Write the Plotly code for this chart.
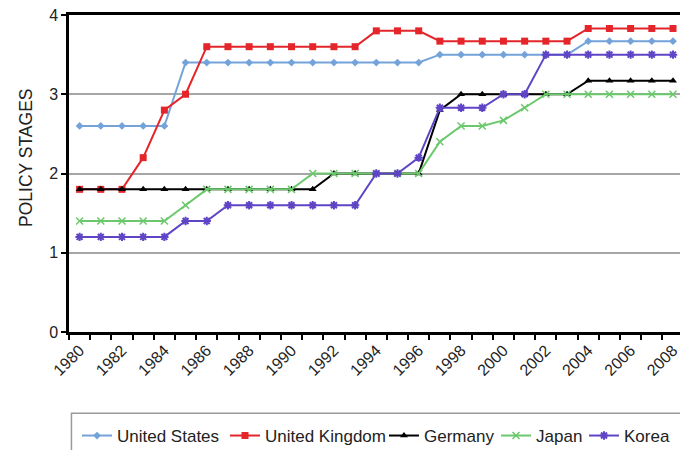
import plotly.graph_objects as go

# Years covered by the series
years = list(range(1980, 2009))

# Policy stage scores per country
united_states = [2.6] * 5 + [3.4] * 12 + [3.5] * 7 + [3.67] * 5
united_kingdom = [1.8] * 3 + [2.2, 2.8, 3.0] + [3.6] * 8 + [3.8] * 3 + [3.67] * 7 + [3.83] * 5
germany = [1.8] * 12 + [2.0] * 5 + [2.8] + [3.0] * 6 + [3.17] * 5
japan = [1.4] * 5 + [1.6] + [1.8] * 5 + [2.0] * 6 + [2.4, 2.6, 2.6, 2.67, 2.83] + [3.0] * 7
korea = [1.2] * 5 + [1.4] * 2 + [1.6] * 7 + [2.0] * 2 + [2.2] + [2.83] * 3 + [3.0] * 2 + [3.5] * 7

# Axis labels
x_tick_years = list(range(1980, 2009, 2))
y_ticks = [0, 1, 2, 3, 4]
y_title = "POLICY STAGES"

FONT = "Liberation Sans, Arial, sans-serif"

series = [
    ("United States", united_states, "#74a3da", dict(symbol="diamond", size=6)),
    ("United Kingdom", united_kingdom, "#e4262b", dict(symbol="square", size=7)),
    ("Germany", germany, "#000000", dict(symbol="triangle-up", size=7)),
    ("Japan", japan, "#6cc86c", dict(symbol="x-thin-open", size=7, line=dict(width=1.5))),
    ("Korea", korea, "#5f45c6", dict(symbol="asterisk-open", size=7, line=dict(width=2))),
]

# Horizontal placement of each legend entry (paper fraction), laid out in one row
legend_x = [0.0131, 0.2553, 0.5155, 0.6989, 0.8429]

fig = go.Figure()
legend_layouts = {}
for i, (name, vals, color, marker) in enumerate(series):
    m = dict(marker)
    m["color"] = color
    if "line" in m:
        m["line"] = dict(m["line"], color=color)
    key = "legend" if i == 0 else f"legend{i + 1}"
    fig.add_trace(go.Scatter(
        x=years, y=vals, name=name, mode="lines+markers",
        line=dict(color=color, width=2), marker=m, legend=key,
    ))
    legend_layouts[key] = dict(
        orientation="h", x=legend_x[i], xanchor="left", y=-0.328, yanchor="middle",
        font=dict(size=17, family=FONT, color="#222222"),
        bgcolor="rgba(0,0,0,0)", borderwidth=0, itemclick=False,
    )

# Frame around the legend row, running off the right edge
fig.add_shape(type="rect", xref="paper", yref="paper",
              x0=0.004, x1=1.2, y0=-0.256, y1=-0.5,
              line=dict(color="#9a9a9a", width=1.5), fillcolor="rgba(0,0,0,0)")

# Vertical axis title
fig.add_annotation(text=y_title, xref="paper", yref="paper", x=-0.0704, y=0.549,
                   xanchor="center", yanchor="middle", textangle=-90, showarrow=False,
                   font=dict(size=17.5, family=FONT, color="#222222"))

fig.update_layout(
    width=680, height=450,
    margin=dict(l=69, r=0, t=15, b=118, autoexpand=False),
    paper_bgcolor="white", plot_bgcolor="white",
    font=dict(family=FONT, color="#222222"),
    showlegend=True,
    xaxis=dict(
        range=[1979.5, 2008.33],
        tickmode="array", tickvals=x_tick_years, ticktext=[str(y) for y in x_tick_years],
        tickangle=-45, tickfont=dict(size=16, family=FONT, color="#222222"),
        ticklabeloverflow="allow", automargin=False,
        ticks="", showgrid=False, zeroline=False,
        showline=True, linecolor="black", linewidth=2.5, mirror=True,
        minor=dict(tickmode="linear", tick0=1979.5, dtick=1, ticks="outside",
                   ticklen=5, tickwidth=1.5, tickcolor="black", showgrid=False),
    ),
    yaxis=dict(
        range=[0, 4], tickmode="array", tickvals=y_ticks,
        tickfont=dict(size=16, family=FONT, color="#222222"),
        ticks="outside", ticklen=5, tickwidth=1.5, tickcolor="black",
        showgrid=True, gridcolor="#a6a6a6", gridwidth=2, zeroline=False,
        showline=True, linecolor="black", linewidth=2.5, automargin=False,
    ),
    **legend_layouts,
)

fig.write_html("out.html")
